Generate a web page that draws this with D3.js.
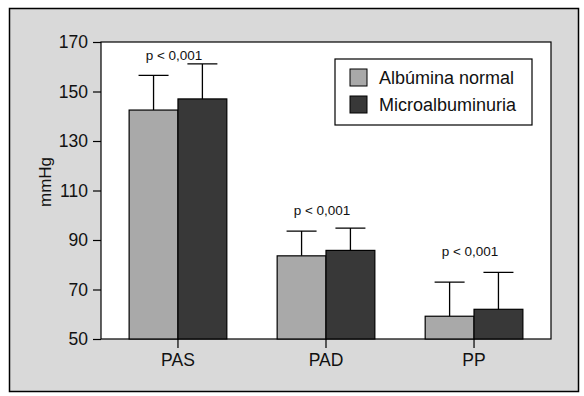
<!DOCTYPE html>
<html lang="es">
<head>
<meta charset="UTF-8">
<script src="https://d3js.org/d3.v7.min.js"></script>
<style>
  body { margin: 0; background: #fff; }
  svg text { font-family: "Liberation Sans", Arial, sans-serif; fill: #111; }
</style>
</head>
<body>
<div id="chart"></div>
<script>
// datos (mmHg)
const categories = ["PAS", "PAD", "PP"];
const series = ["Albúmina normal", "Microalbuminuria"];
const normalMean = [142.5, 83.6, 59.2];
const normalSD   = [14.0, 10.0, 13.8];
const microMean  = [147.0, 85.8, 62.0];
const microSD    = [14.2, 9.0, 14.9];
const pLabels    = ["p < 0,001", "p < 0,001", "p < 0,001"];
const pLabelAt   = [162.8, 100, 83.5];   // altura de la etiqueta, en mmHg
const yTicks     = [50, 70, 90, 110, 130, 150, 170];

const W = 584, H = 396;
const plot = { left: 101, right: 551, top: 42, bottom: 339 };
const colors = ["#a9a9a9", "#383838"];

const svg = d3.select("#chart").append("svg")
    .attr("width", W).attr("height", H);

// marco exterior gris
svg.append("rect")
    .attr("x", 9.5).attr("y", 8.5)
    .attr("width", 569).attr("height", 383)
    .attr("fill", "#d9d9d9")
    .attr("stroke", "#000").attr("stroke-width", 1.5);

// área del gráfico
svg.append("rect")
    .attr("x", plot.left).attr("y", plot.top)
    .attr("width", plot.right - plot.left).attr("height", plot.bottom - plot.top)
    .attr("fill", "#fff")
    .attr("stroke", "#000").attr("stroke-width", 1.2);

const x = d3.scaleBand()
    .domain(categories)
    .range([plot.left, plot.right])
    .paddingInner(0.34)
    .paddingOuter(0.19);

const xs = d3.scaleBand()
    .domain(series)
    .range([0, x.bandwidth()]);

const y = d3.scaleLinear()
    .domain([50, 170])
    .range([plot.bottom, plot.top]);

// eje Y
const yAxis = svg.append("g")
    .attr("transform", `translate(${plot.left},0)`)
    .call(d3.axisLeft(y).tickValues(yTicks).tickSize(8).tickPadding(5));
yAxis.select(".domain").remove();
yAxis.selectAll("line").attr("stroke", "#000").attr("stroke-width", 1.2);
yAxis.selectAll("text").style("font-size", "17.5px").attr("font-family", null).attr("fill", "#111");

// eje X
const xAxis = svg.append("g")
    .attr("transform", `translate(0,${plot.bottom})`)
    .call(d3.axisBottom(x).tickSize(9).tickPadding(6));
xAxis.select(".domain").remove();
xAxis.selectAll("line").attr("stroke", "#000").attr("stroke-width", 1.2);
xAxis.selectAll("text").style("font-size", "17.5px").attr("font-family", null).attr("fill", "#111");

// título del eje Y
svg.append("text")
    .attr("transform", "translate(51,182) rotate(-90)")
    .attr("text-anchor", "middle")
    .style("font-size", "17px")
    .text("mmHg");

const data = categories.map((c, i) => ({
    cat: c,
    vals: [
        { s: series[0], mean: normalMean[i], sd: normalSD[i], color: colors[0] },
        { s: series[1], mean: microMean[i], sd: microSD[i], color: colors[1] }
    ],
    p: pLabels[i],
    pAt: pLabelAt[i]
}));

const groups = svg.selectAll(".grupo")
    .data(data)
    .enter().append("g")
    .attr("class", "grupo")
    .attr("transform", d => `translate(${x(d.cat)},0)`);

// barras de error (sólo hacia arriba)
groups.selectAll(".err")
    .data(d => d.vals)
    .enter().append("path")
    .attr("class", "err")
    .attr("fill", "none")
    .attr("stroke", "#000")
    .attr("stroke-width", 1.3)
    .attr("d", d => {
        const cx = xs(d.s) + xs.bandwidth() / 2;
        const top = y(d.mean + d.sd);
        return `M${cx},${y(d.mean)}V${top}M${cx - 15},${top}H${cx + 15}`;
    });

// barras
groups.selectAll(".bar")
    .data(d => d.vals)
    .enter().append("rect")
    .attr("class", "bar")
    .attr("x", d => xs(d.s))
    .attr("y", d => y(d.mean))
    .attr("width", xs.bandwidth())
    .attr("height", d => y(50) - y(d.mean))
    .attr("fill", d => d.color)
    .attr("stroke", "#000")
    .attr("stroke-width", 1.2);

// etiquetas p
groups.append("text")
    .attr("x", x.bandwidth() / 2 - 4)
    .attr("y", d => y(d.pAt))
    .attr("text-anchor", "middle")
    .style("font-size", "13.5px")
    .text(d => d.p);

// leyenda
const legend = svg.append("g").attr("transform", "translate(335,59)");
legend.append("rect")
    .attr("width", 197).attr("height", 66)
    .attr("fill", "#fff").attr("stroke", "#000").attr("stroke-width", 1.2);
series.forEach((s, i) => {
    legend.append("rect")
        .attr("x", 15).attr("y", 10 + i * 27)
        .attr("width", 17).attr("height", 17)
        .attr("fill", colors[i]).attr("stroke", "#000").attr("stroke-width", 1);
    legend.append("text")
        .attr("x", 44).attr("y", 25 + i * 27)
        .style("font-size", "18px")
        .text(s);
});
</script>
</body>
</html>
